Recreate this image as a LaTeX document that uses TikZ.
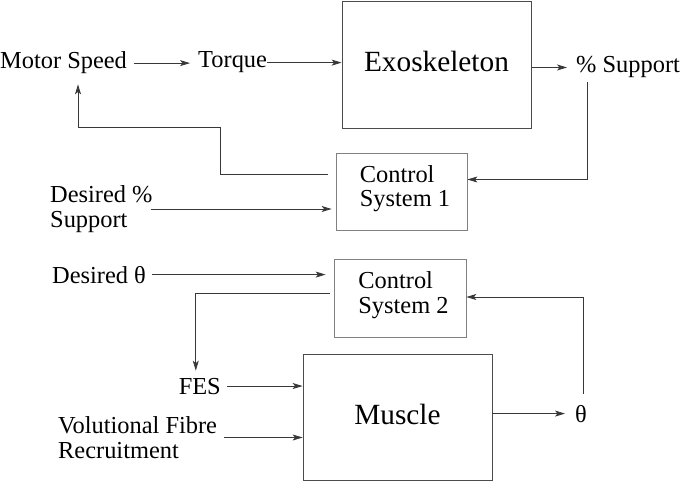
\documentclass[tikz,border=0pt]{standalone}
\usepackage{fontspec}
\setmainfont{Liberation Serif}
\usetikzlibrary{arrows.meta}
\newcommand{\dstrut}[1]{\rule[-#1]{0pt}{0pt}}
\tikzset{
  lbl/.style={inner sep=0pt, font=\fontsize{24.4bp}{24.8bp}\selectfont, align=left},
  boxnode/.style={draw=black!50, line width=0.8bp, inner sep=0pt, align=left,
                  font=\fontsize{24.4bp}{24.8bp}\selectfont},
  bigbox/.style={draw=black!70, line width=0.8bp, inner sep=0pt,
                 font=\fontsize{29.3bp}{30bp}\selectfont},
  arr/.style={draw=black!78, line width=0.8bp, -{Stealth[length=10bp,width=6bp,inset=2.5bp]}}
}
\begin{document}
\begin{tikzpicture}[x=1bp,y=-1bp]
\useasboundingbox (0,0) rectangle (685,482);
% nodes
\node[lbl, anchor=base west] (ms) at (0,69) {Motor Speed};
\node[lbl, anchor=base west] (tq) at (198,68) {Torque};
\node[bigbox, minimum width=189bp, minimum height=127bp] (exo) at (436.5,64.5) {Exoskeleton\dstrut{6bp}};
\node[lbl, anchor=base west] (sup) at (576,73) {\% Support};
\node[boxnode, minimum width=131bp, minimum height=77bp] (cs1) at (401.5,191.5) {\hspace{7bp}Control\\\hspace{7bp}System 1\dstrut{11bp}};
\node[lbl, anchor=west] (dsup) at (50,209) {Desired \%\\Support};
\node[lbl, anchor=base west] (dth) at (52,283) {Desired θ};
\node[boxnode, minimum width=132bp, minimum height=78bp] (cs2) at (400,298) {\hspace{7bp}Control\\\hspace{7bp}System 2\dstrut{11bp}};
\node[lbl, anchor=base east] (fes) at (221,394) {FES};
\node[lbl, anchor=west] (vfr) at (58,437.5) {Volutional Fibre\\Recruitment};
\node[bigbox, minimum width=189bp, minimum height=126bp] (mus) at (397.5,417) {Muscle\dstrut{6bp}};
\node[lbl, anchor=base west] (th) at (575,422) {θ};
% connectors
\draw[arr] ([xshift=7bp]ms.east) -- ([xshift=-8bp]tq.west |- ms.east);
\draw[arr] (tq.east) -- (tq.east -| exo.west);
\draw[arr] (sup.west -| exo.east) -- ([xshift=-9bp]sup.west);
\draw[arr] ([xshift=11bp,yshift=-4bp]sup.south west) |- ([yshift=12bp]cs1.east);
\draw[arr] ([xshift=-8bp,yshift=17bp]cs1.west) -| ++(-107,-46.6) -| ([xshift=78bp,yshift=-10bp]ms.south west);
\draw[arr] ([xshift=-2bp]dsup.east) -- ([xshift=-4bp]cs1.west |- dsup.east);
\draw[arr] ([xshift=6bp]dth.east) -- ([xshift=-8bp]cs2.west |- dth.east);
\draw[arr] ([xshift=-4bp,yshift=5bp]cs2.west) -| ([xshift=-4bp,yshift=7bp]fes.north);
\draw[arr] ([xshift=6bp]fes.east) -- (fes.east -| mus.west);
\draw[arr] ([xshift=7bp]vfr.east) -- (vfr.east -| mus.west);
\draw[arr] (mus.east |- th.west) -- ([xshift=-10bp]th.west);
\draw[arr] ([xshift=2bp,yshift=11bp]th.north) |- ([yshift=1bp]cs2.east);
\end{tikzpicture}
\end{document}
